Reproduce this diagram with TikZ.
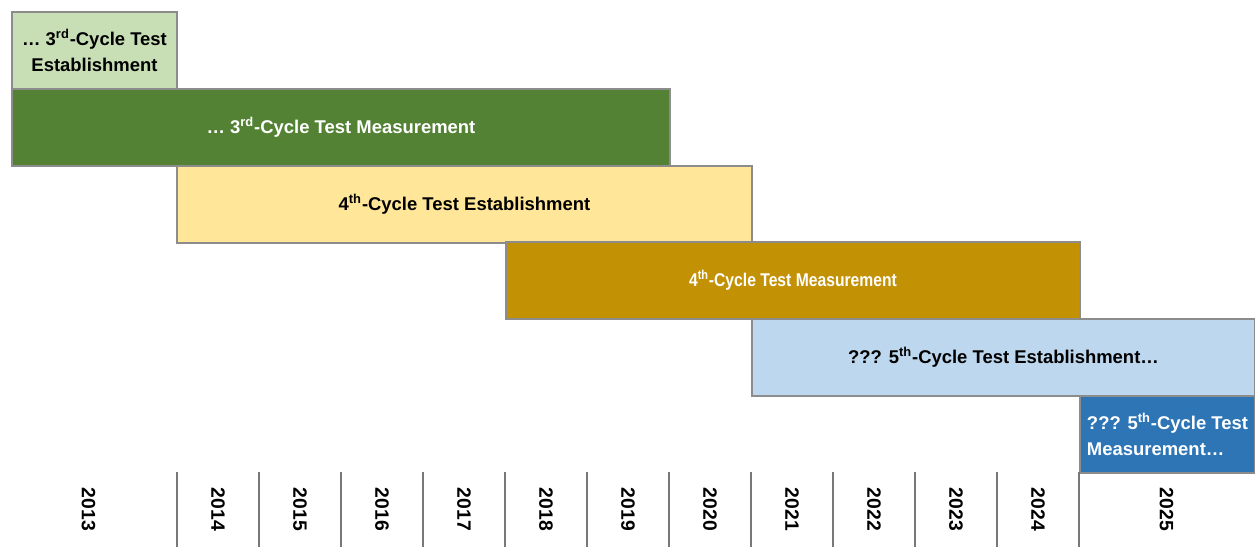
\documentclass[tikz,border=0pt]{standalone}
\usepackage{fontspec}
\setmainfont{Liberation Sans}
\usepackage{tikz}
\usetikzlibrary{calc,positioning}
\usepackage{xcolor}
\definecolor{estthree}{RGB}{200,223,182}
\definecolor{measthree}{RGB}{84,130,53}
\definecolor{estfour}{RGB}{255,230,153}
\definecolor{measfour}{RGB}{194,145,4}
\definecolor{estfive}{RGB}{189,215,238}
\definecolor{measfive}{RGB}{46,117,182}
\definecolor{rulegray}{RGB}{120,120,120}

\begin{document}
\begin{tikzpicture}[x=1cm,y=1cm]
  \tikzset{
    bar/.style={rectangle,draw=black!45,line width=0.6pt,outer sep=0pt,inner sep=2pt,
                minimum height=1.54cm,anchor=north west,
                font=\fontsize{10.5}{14.5}\selectfont\bfseries},
    est/.style={bar,text=black},
    meas/.style={bar,text=white},
    cell/.style={rectangle,outer sep=0pt,inner sep=0pt,minimum width=1.64cm,
                 minimum height=1.50cm,anchor=south west,
                 font=\fontsize{11}{12}\selectfont\bfseries},
    sep/.style={draw=rulegray,line width=0.6pt},
  }
  \useasboundingbox (0,0) rectangle (25.1,10.94);

  % cycle bars, top to bottom
  \node[est,fill=estthree,minimum width=3.30cm,align=center] (est3) at (0.24,10.70)
    {\ldots\ 3\textsuperscript{rd}-Cycle Test\\Establishment};
  \node[meas,fill=measthree,minimum width=13.16cm] (meas3) at (est3.south west)
    {\ldots\ 3\textsuperscript{rd}-Cycle Test Measurement};
  \node[est,fill=estfour,minimum width=11.50cm] (est4) at (est3.east |- meas3.south)
    {4\textsuperscript{th}-Cycle Test Establishment};
  \node[meas,fill=measfour,minimum width=11.48cm] (meas4) at (10.12,6.10)
    {\scalebox{0.85}[1]{4\textsuperscript{th}-Cycle Test Measurement}};
  \node[est,fill=estfive,minimum width=10.06cm] (est5) at (est4.east |- meas4.south)
    {??? 5\textsuperscript{th}-Cycle Test Establishment\ldots};
  \node[meas,fill=measfive,minimum width=3.50cm,align=left] (meas5) at (meas4.east |- est5.south)
    {??? 5\textsuperscript{th}-Cycle Test\\Measurement\ldots};

  % year axis
  \node[cell,minimum width=3.54cm] (c2013) at (0,0) {\rotatebox{-90}{2013}};
  \foreach \yr [count=\i from 0] in {2014,...,2024} {
    \node[cell] (c\yr) at ({3.54+1.64*\i},0) {\rotatebox{-90}{\yr}};
    \draw[sep] (c\yr.north west) -- (c\yr.south west);
  }
  \node[cell,minimum width=3.50cm] (c2025) at (c2024.south east) {\rotatebox{-90}{2025}};
  \draw[sep] (c2025.north west) -- (c2025.south west);
\end{tikzpicture}
\end{document}
